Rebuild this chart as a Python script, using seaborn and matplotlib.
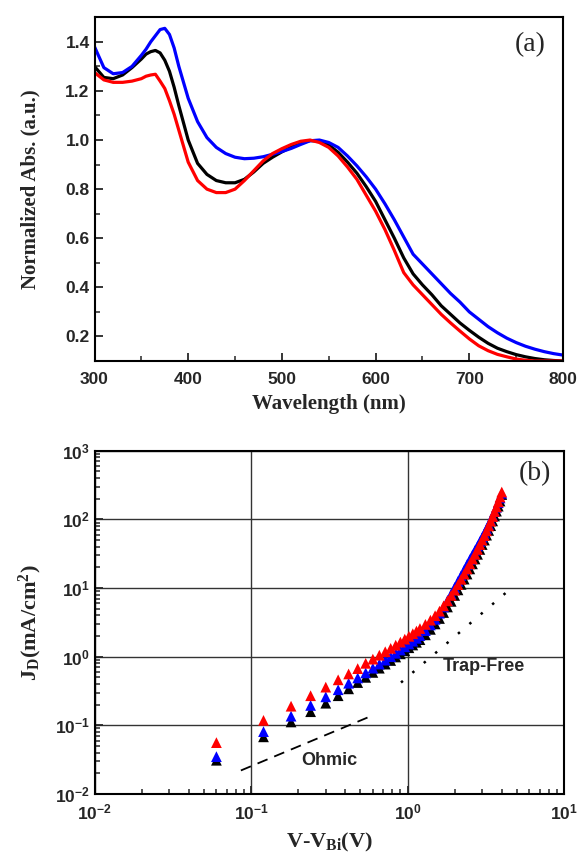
import numpy as np
import matplotlib
matplotlib.use('Agg')
import matplotlib.pyplot as plt
import matplotlib.ticker as mticker
import pandas as pd
import seaborn as sns

# (a) 吸収スペクトル
wavelength = [300, 310, 320, 330, 340, 350, 355, 360, 365, 370, 375, 380, 385, 390,
              400, 410, 420, 430, 440, 450, 460, 470, 480, 490,
              500, 510, 520, 530, 540, 550, 560, 570, 580, 590,
              600, 610, 620, 630, 640, 650, 660, 670, 680, 690,
              700, 710, 720, 730, 740, 750, 760, 770, 780, 790, 800]
abs_black = [1.30, 1.255, 1.25, 1.265, 1.295, 1.33, 1.35, 1.36, 1.365, 1.355, 1.325, 1.28, 1.215, 1.14,
             1.00, 0.905, 0.86, 0.835, 0.826, 0.826, 0.84, 0.87, 0.905, 0.93,
             0.952, 0.972, 0.988, 0.998, 0.995, 0.98, 0.95, 0.91, 0.865, 0.81,
             0.75, 0.675, 0.60, 0.52, 0.455, 0.41, 0.37, 0.325, 0.29, 0.255,
             0.225, 0.197, 0.172, 0.152, 0.138, 0.126, 0.117, 0.11, 0.105, 0.102, 0.10]
abs_blue = [1.38, 1.295, 1.27, 1.275, 1.30, 1.345, 1.37, 1.40, 1.425, 1.45, 1.455, 1.43, 1.375, 1.30,
            1.17, 1.075, 1.01, 0.97, 0.945, 0.93, 0.924, 0.926, 0.932, 0.942,
            0.953, 0.966, 0.982, 0.997, 1.0, 0.99, 0.97, 0.935, 0.895, 0.85,
            0.80, 0.74, 0.675, 0.605, 0.535, 0.495, 0.455, 0.415, 0.375, 0.34,
            0.30, 0.27, 0.24, 0.215, 0.193, 0.175, 0.16, 0.148, 0.138, 0.13, 0.124]
abs_red = [1.275, 1.245, 1.235, 1.235, 1.24, 1.25, 1.26, 1.265, 1.268, 1.24, 1.21, 1.16, 1.105, 1.04,
           0.91, 0.835, 0.80, 0.786, 0.786, 0.80, 0.835, 0.875, 0.915, 0.945,
           0.965, 0.982, 0.995, 1.0, 0.99, 0.97, 0.935, 0.89, 0.84, 0.775,
           0.71, 0.635, 0.55, 0.46, 0.41, 0.37, 0.33, 0.29, 0.255, 0.222,
           0.19, 0.162, 0.142, 0.127, 0.117, 0.108, 0.103, 0.10, 0.10, 0.10, 0.10]

# (b) J-V (SCLC)
voltage = [0.06, 0.12, 0.18, 0.24, 0.30, 0.36, 0.42, 0.48, 0.54, 0.60,
           0.66, 0.72, 0.78, 0.84, 0.90, 0.96, 1.02, 1.08, 1.14, 1.20,
           1.3, 1.4, 1.5, 1.6, 1.7, 1.8, 1.9, 2.0, 2.1, 2.2, 2.3, 2.4, 2.5,
           2.6, 2.7, 2.8, 2.9, 3.0, 3.1, 3.2, 3.3, 3.4, 3.5, 3.6, 3.7, 3.8, 3.9, 4.0]
j_black = [0.031, 0.068, 0.112, 0.158, 0.21, 0.27, 0.34, 0.42, 0.50, 0.59,
           0.68, 0.78, 0.88, 0.99, 1.10, 1.22, 1.35, 1.48, 1.62, 1.77,
           2.08, 2.5, 3.0, 3.6, 4.4, 5.3, 6.4, 7.8, 9.4, 11.3, 13.5, 16, 19,
           22.5, 26.5, 31, 36.5, 43, 50, 59, 69, 81, 95, 112, 132, 156, 185, 230]
j_blue = [0.035, 0.081, 0.136, 0.195, 0.26, 0.33, 0.41, 0.49, 0.58, 0.68,
          0.78, 0.89, 1.0, 1.12, 1.25, 1.39, 1.53, 1.68, 1.85, 2.03,
          2.4, 2.9, 3.5, 4.3, 5.3, 6.6, 8.2, 10.2, 12.5, 15.2, 18.3, 22, 26,
          30.5, 35.5, 41, 47.5, 55, 63, 73, 84, 97, 112, 130, 150, 175, 205, 240]
j_red = [0.056, 0.118, 0.19, 0.27, 0.36, 0.46, 0.56, 0.67, 0.80, 0.92,
         1.05, 1.18, 1.32, 1.47, 1.63, 1.80, 1.98, 2.16, 2.36, 2.57,
         2.95, 3.4, 3.95, 4.6, 5.5, 6.5, 7.8, 9.3, 11.2, 13.4, 16, 19, 22.5,
         26.5, 31, 36.5, 43, 50, 58, 68, 80, 94, 110, 130, 152, 180, 212, 250]

ohmic_v = [0.086, 0.587]
ohmic_j = [0.022, 0.137]
trap_v = [0.908, 4.73]
trap_j = [0.42, 10.5]

sns.set_style('ticks')
plt.rcParams['font.family'] = ['Liberation Sans', 'DejaVu Sans']
plt.rcParams['mathtext.default'] = 'regular'
plt.rcParams['axes.linewidth'] = 1.5

serif = ['Liberation Serif', 'DejaVu Serif']

fig = plt.figure(figsize=(5.78, 8.52), dpi=100)
ax1 = fig.add_axes([0.1635, 0.5763, 0.8106, 0.4034])
ax2 = fig.add_axes([0.1638, 0.0681, 0.812, 0.4029])

df_a = pd.DataFrame({
    'wl': wavelength * 3,
    'abs': abs_black + abs_blue + abs_red,
    'sample': ['k'] * len(wavelength) + ['b'] * len(wavelength) + ['r'] * len(wavelength),
})
sns.lineplot(data=df_a, x='wl', y='abs', hue='sample',
             palette={'k': 'black', 'b': '#0000ff', 'r': '#ff0000'},
             linewidth=2.3, legend=False, ax=ax1)
ax1.set_xlim(300, 800)
ax1.set_ylim(0.1, 1.5)
ax1.xaxis.set_major_locator(mticker.MultipleLocator(100))
ax1.xaxis.set_minor_locator(mticker.MultipleLocator(50))
ax1.yaxis.set_major_locator(mticker.FixedLocator([0.2, 0.4, 0.6, 0.8, 1.0, 1.2, 1.4]))
ax1.yaxis.set_minor_locator(mticker.MultipleLocator(0.1))
ax1.set_xlabel('Wavelength (nm)', family=serif, fontweight='bold', fontsize=15, labelpad=5)
ax1.set_ylabel('Normalized Abs. (a.u.)', family=serif, fontweight='bold', fontsize=15, labelpad=18)
ax1.text(0.93, 0.92, '(a)', transform=ax1.transAxes, family=serif, fontsize=20,
         ha='center', va='center')

df_b = pd.DataFrame({
    'v': voltage * 3,
    'j': j_black + j_blue + j_red,
    'sample': ['k'] * len(voltage) + ['b'] * len(voltage) + ['r'] * len(voltage),
})
sns.scatterplot(data=df_b, x='v', y='j', hue='sample',
                palette={'k': 'black', 'b': '#0000ff', 'r': '#ff0000'},
                marker='^', s=60, linewidth=0, legend=False, ax=ax2, zorder=3)
ax2.plot(ohmic_v, ohmic_j, color='black', linestyle=(0, (6, 4)), linewidth=1.3)
ax2.plot(trap_v, trap_j, color='black', linestyle=(0, (1, 5)), linewidth=1.8)
ax2.set_xscale('log')
ax2.set_yscale('log')
ax2.set_xlim(1e-2, 1e1)
ax2.set_ylim(1e-2, 1e3)
ax2.xaxis.set_major_locator(mticker.LogLocator(base=10, numticks=10))
ax2.yaxis.set_major_locator(mticker.LogLocator(base=10, numticks=10))
ax2.xaxis.set_minor_locator(mticker.LogLocator(base=10, subs=np.arange(2, 10), numticks=20))
ax2.yaxis.set_minor_locator(mticker.LogLocator(base=10, subs=np.arange(2, 10), numticks=20))
ax2.xaxis.set_minor_formatter(mticker.NullFormatter())
ax2.yaxis.set_minor_formatter(mticker.NullFormatter())
ax2.grid(True, which='major', color='#333333', linewidth=1.0)
ax2.set_axisbelow(True)
ax2.text(0.315, 0.031, 'Ohmic', fontsize=13, fontweight='bold', ha='center', va='center')
ax2.text(3.06, 0.71, 'Trap-Free', fontsize=13, fontweight='bold', ha='center', va='center')
ax2.set_xlabel('V-V$_{Bi}$(V)', family=serif, fontweight='bold', fontsize=16, labelpad=6)
ax2.set_ylabel('J$_{D}$(mA/cm$^{2}$)', family=serif, fontweight='bold', fontsize=16, labelpad=8)
ax2.text(0.937, 0.934, '(b)', transform=ax2.transAxes, family=serif, fontsize=20,
         ha='center', va='center')

for ax in (ax1, ax2):
    ax.tick_params(which='major', direction='in', length=6, width=1.3,
                   labelsize=12.5, top=False, right=False)
    ax.tick_params(which='minor', direction='in', length=3.5, width=1.1,
                   top=False, right=False)
    for lab in ax.get_xticklabels() + ax.get_yticklabels():
        lab.set_fontweight('bold')
    for sp in ax.spines.values():
        sp.set_visible(True)
        sp.set_color('black')
ax1.tick_params(axis='x', which='major', pad=8)
ax2.tick_params(axis='x', which='major', pad=6)

fig.savefig('out.png', dpi=100)
